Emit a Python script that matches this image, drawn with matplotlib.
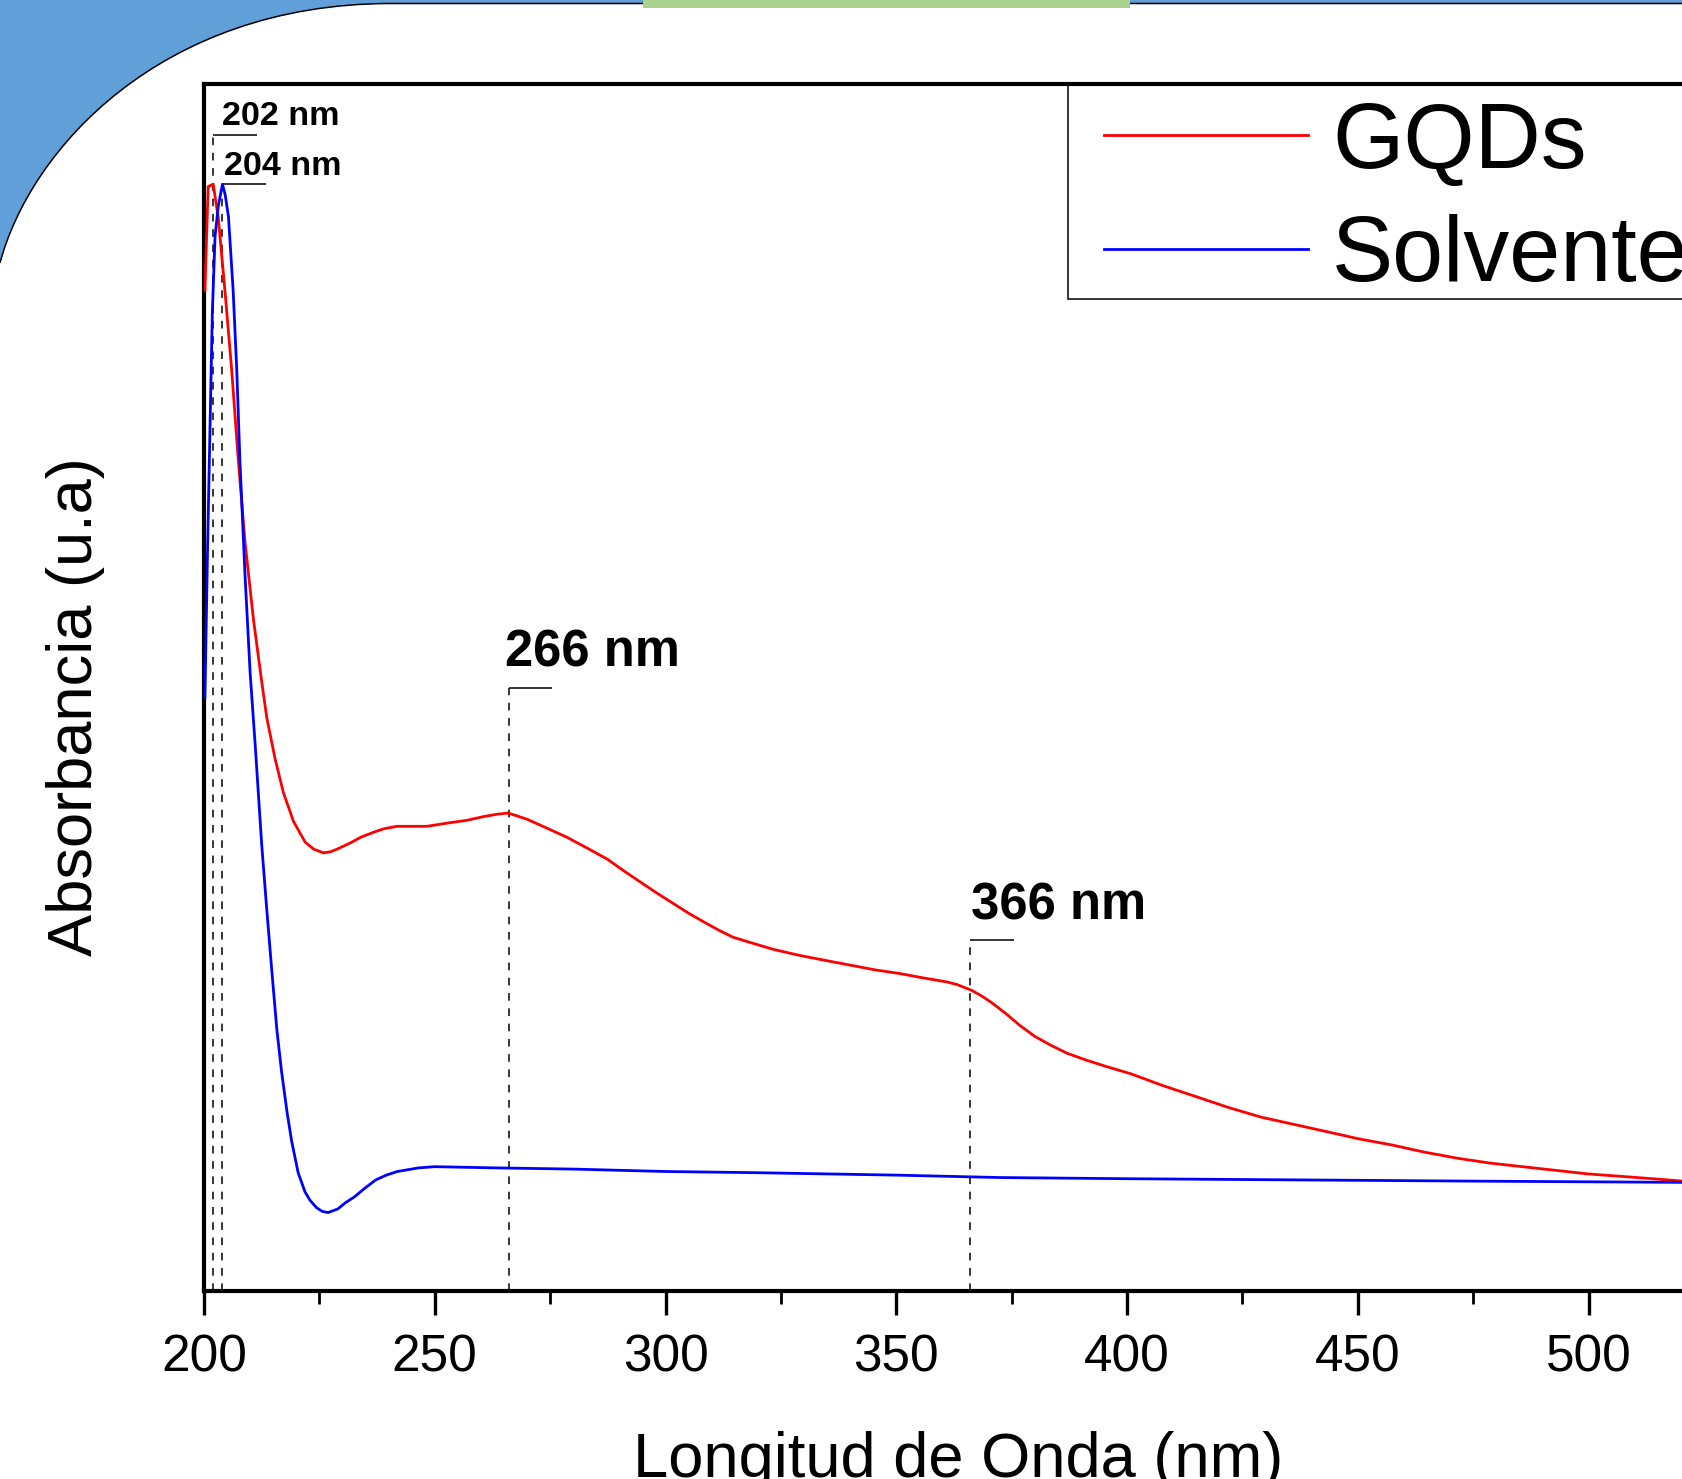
import matplotlib
matplotlib.use('Agg')
import matplotlib.pyplot as plt
from matplotlib.path import Path
from matplotlib.patches import PathPatch, Rectangle
from matplotlib.transforms import Affine2D
from matplotlib.ticker import MultipleLocator

plt.rcParams['font.family'] = ['Liberation Sans', 'DejaVu Sans']

# UV-Vis spectra (absorbance in arbitrary units)
gqds_nm = [200.2, 200.9, 202.0, 203.1, 204.6, 206.0, 207.4, 208.9, 210.7, 212.5,
           213.6, 215.4, 217.2, 219.4, 221.9, 223.8, 225.9, 227.5, 228.8, 231.6,
           234.0, 236.7, 239.0, 241.8, 245.0, 248.3, 253.3, 257.0, 260.5, 263.5,
           265.9, 269.9, 274.0, 278.6, 283.0, 287.3, 291.0, 294.5, 298.0, 301.7,
           305.0, 308.2, 311.5, 314.7, 319.0, 323.4, 329.1, 334.5, 340.0, 345.5,
           350.8, 355.0, 358.0, 361.0, 363.1, 366.4, 368.7, 371.0, 374.0, 376.8,
           380.0, 383.3, 387.0, 391.4, 395.5, 400.8, 407.9, 415.0, 422.0, 429.1,
           436.2, 443.3, 450.3, 457.4, 464.5, 471.6, 478.6, 485.7, 492.8, 499.9,
           507.0, 514.0, 520.5, 527.0]
gqds_abs = [0.829, 0.915, 0.917, 0.889, 0.826, 0.763, 0.690, 0.620, 0.557, 0.505,
            0.475, 0.441, 0.413, 0.389, 0.372, 0.366, 0.363, 0.364, 0.366, 0.371,
            0.376, 0.380, 0.383, 0.385, 0.385, 0.385, 0.388, 0.390, 0.393, 0.395,
            0.396, 0.391, 0.384, 0.376, 0.367, 0.358, 0.348, 0.339, 0.330, 0.321,
            0.313, 0.306, 0.299, 0.293, 0.288, 0.283, 0.278, 0.274, 0.270, 0.266,
            0.263, 0.260, 0.258, 0.256, 0.254, 0.249, 0.244, 0.238, 0.229, 0.220,
            0.211, 0.204, 0.197, 0.191, 0.186, 0.180, 0.170, 0.161, 0.152, 0.144,
            0.138, 0.132, 0.126, 0.121, 0.115, 0.110, 0.106, 0.103, 0.100, 0.097,
            0.095, 0.093, 0.091, 0.090]

solv_nm = [200.2, 200.8, 201.3, 201.8, 202.4, 203.1, 204.0, 204.6, 205.3, 206.3,
           207.1, 207.8, 208.9, 210.0, 211.1, 212.5, 213.6, 214.7, 215.8, 216.8,
           218.0, 219.0, 220.4, 221.9, 223.0, 224.4, 225.6, 226.9, 229.0, 230.6,
           232.6, 234.8, 237.2, 239.5, 241.9, 246.5, 250.0, 263.1, 280.0, 300.0,
           320.0, 350.0, 372.5, 400.8, 438.5, 476.3, 520.5, 527.0]
solv_abs = [0.492, 0.621, 0.715, 0.810, 0.874, 0.899, 0.917, 0.908, 0.890, 0.830,
            0.763, 0.686, 0.592, 0.512, 0.452, 0.370, 0.316, 0.265, 0.216, 0.182,
            0.148, 0.124, 0.098, 0.082, 0.075, 0.069, 0.066, 0.065, 0.068, 0.073,
            0.078, 0.085, 0.092, 0.096, 0.099, 0.102, 0.103, 0.102, 0.101, 0.099,
            0.098, 0.096, 0.094, 0.093, 0.092, 0.091, 0.090, 0.090]

# peak markers: position, height of the marker bar, label, font size
peak_nm = [202, 204, 266, 366]
peak_top = [0.958, 0.917, 0.500, 0.291]
peak_labels = ['202 nm', '204 nm', '266 nm', '366 nm']
peak_fs = [24.6, 24.6, 36.5, 36.5]
peak_text_dx = [1.9, 0.4, -0.8, 0.3]
peak_text_dy = [0.008, 0.008, 0.017, 0.017]

W, H = 1683, 1479
fig = plt.figure(figsize=(W / 100, H / 100), dpi=100)
fig.patch.set_facecolor('white')

# slide decoration, drawn in pixel coordinates (y from top)
px = Affine2D().scale(1 / W, -1 / H).translate(0, 1) + fig.transFigure
blue_path = Path(
    [(0, 0), (W, 0), (W, 3.5), (390, 3.5), (160, 4), (30, 150), (0, 263), (0, 0)],
    [Path.MOVETO, Path.LINETO, Path.LINETO, Path.LINETO,
     Path.CURVE4, Path.CURVE4, Path.CURVE4, Path.CLOSEPOLY])
fig.patches.append(PathPatch(blue_path, transform=px, facecolor='#619fd9',
                             edgecolor='none', zorder=0))
edge_path = Path([(W, 3.5), (390, 3.5), (160, 4), (30, 150), (0, 263)],
                 [Path.MOVETO, Path.LINETO, Path.CURVE4, Path.CURVE4, Path.CURVE4])
fig.patches.append(PathPatch(edge_path, transform=px, facecolor='none',
                             edgecolor='black', lw=1.1, zorder=0.5))
fig.patches.append(Rectangle((643, 0), 487, 7.5, transform=px,
                             facecolor='#a9d18e', edgecolor='none', zorder=1))

xmin, xmax = 200, 527
ax = fig.add_axes([204 / W, 188 / H, (xmax - xmin) * 4.615 / W, 1207 / H])
ax.set_facecolor('none')

l1, = ax.plot(gqds_nm, gqds_abs, color='#ff0000', lw=2.0, zorder=3)
l2, = ax.plot(solv_nm, solv_abs, color='#0000ff', lw=2.0, zorder=3)

for x, top, lab, fs, dx, dy in zip(peak_nm, peak_top, peak_labels, peak_fs,
                                   peak_text_dx, peak_text_dy):
    ax.vlines(x, 0, top, colors='black', linestyles=(0, (5, 5)), lw=1.1, zorder=2)
    ax.hlines(top, x, x + 9.5, colors='black', lw=1.1, zorder=2)
    ax.text(x + dx, top + dy, lab, fontsize=fs, fontweight='bold',
            ha='left', va='baseline')

ax.set_xlim(xmin, xmax)
ax.set_ylim(0, 1)
ax.xaxis.set_major_locator(MultipleLocator(50))
ax.xaxis.set_minor_locator(MultipleLocator(25))
ax.tick_params(axis='x', which='major', direction='out', length=17, width=2.4,
               labelsize=37, pad=13.5)
ax.tick_params(axis='x', which='minor', direction='out', length=9, width=2.0)
ax.set_yticks([])
for side in ['left', 'bottom', 'top']:
    ax.spines[side].set_linewidth(3.0)
ax.spines['right'].set_visible(False)

ax.set_xlabel('Longitud de Onda (nm)', fontsize=45.5, va='baseline')
ax.xaxis.set_label_coords(958 / W, 1 - 1476.5 / H, transform=fig.transFigure)
ax.set_ylabel('Absorbancia (u.a)', fontsize=45.5, va='baseline', ha='center',
              rotation_mode='anchor')
ax.yaxis.set_label_coords(92 / W, 1 - 707 / H, transform=fig.transFigure)

leg = ax.legend([l1, l2], ['GQDs', 'Solvente'], loc='upper left',
                bbox_to_anchor=(1104 / W, 1 - 100.5 / H),
                bbox_transform=fig.transFigure, frameon=False, fontsize=66,
                borderpad=0, borderaxespad=0, handlelength=2.22,
                handletextpad=0.27, labelspacing=0.30)
fig.patches.append(Rectangle((1068, 84.5), 700, 214.5, transform=px,
                             facecolor='none', edgecolor='black', lw=1.1, zorder=5))

fig.savefig('out.png', dpi=100)
